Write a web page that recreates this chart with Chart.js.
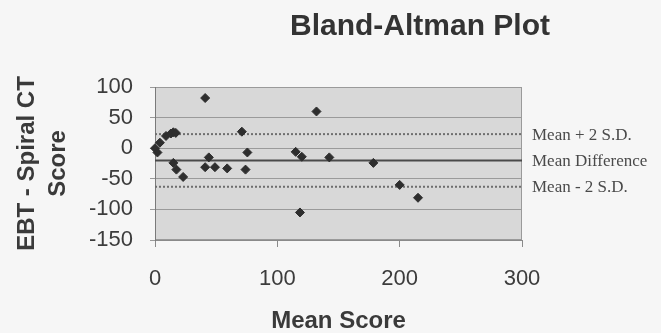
<!DOCTYPE html>
<html>
<head>
<meta charset="utf-8">
<script src="https://cdn.jsdelivr.net/npm/chart.js@4.4.1/dist/chart.umd.min.js"></script>
<style>
  html, body { margin: 0; padding: 0; background: #f6f6f6; }
  #wrap { width: 661px; height: 333px; }
</style>
</head>
<body>
<div id="wrap"><canvas id="baChart" width="661" height="333"></canvas></div>
<script>
// scatter points
const meanScore = [0, 2, 4, 9, 13, 15, 17, 15, 17.5, 23, 41, 41, 44, 49, 59, 71, 74, 75.5, 115, 120, 118.5, 132, 142.5, 178.5, 200, 215];
const diffScore = [0, -7, 9, 20, 24, 26, 25, -24, -35, -47, 82, -31, -15, -31, -33, 27, -35, -7, -6, -14, -105, 60, -15, -24, -60, -81];

// reference lines
const lineNames = ['Mean + 2 S.D.', 'Mean Difference', 'Mean - 2 S.D.'];
const lineValues = [23, -20, -63];
const lineEnds = [0, 300];

const xTicks = [0, 100, 200, 300];
const yTicks = [100, 50, 0, -50, -100, -150];

const points = meanScore.map((x, i) => ({x: x, y: diffScore[i]}));

function refLine(i, dashed) {
  return {
    type: 'line',
    label: lineNames[i],
    data: lineEnds.map(x => ({x: x, y: lineValues[i]})),
    borderColor: dashed ? '#6e6e6e' : '#4a4a4a',
    borderWidth: 2,
    borderDash: dashed ? [2, 2] : [],
    pointRadius: 0,
    order: 2
  };
}

// gray plot background
const plotBg = {
  id: 'plotBg',
  beforeDraw(chart) {
    const {ctx, chartArea: a} = chart;
    ctx.save();
    ctx.fillStyle = '#d8d8d8';
    ctx.fillRect(a.left, a.top, a.right - a.left, a.bottom - a.top);
    ctx.strokeStyle = '#9a9a9a';
    ctx.lineWidth = 1;
    ctx.strokeRect(a.left + 0.5, a.top + 0.5, a.right - a.left - 1, a.bottom - a.top - 1);
    ctx.restore();
  }
};

// title and labels at the right of the reference lines
const textLayer = {
  id: 'textLayer',
  afterDraw(chart) {
    const {ctx, chartArea: a} = chart;
    const y = chart.scales.y;
    ctx.save();
    ctx.fillStyle = '#333333';
    ctx.font = 'bold 30px "Liberation Sans", Arial, sans-serif';
    ctx.textAlign = 'center';
    ctx.textBaseline = 'middle';
    ctx.fillText('Bland-Altman Plot', 420, 27);
    ctx.fillStyle = '#4a4a4a';
    ctx.font = '17px "Liberation Serif", "Times New Roman", serif';
    ctx.textAlign = 'left';
    lineNames.forEach((name, i) => {
      ctx.fillText(name, a.right + 10, y.getPixelForValue(lineValues[i]) + 1);
    });
    ctx.restore();
  }
};

new Chart(document.getElementById('baChart'), {
  type: 'scatter',
  data: {
    datasets: [
      {
        label: 'Difference',
        data: points,
        pointStyle: 'rectRot',
        pointRadius: 4.5,
        backgroundColor: '#2e2e2e',
        borderColor: '#2e2e2e',
        borderWidth: 1,
        clip: false,
        order: 1
      },
      refLine(0, true),
      refLine(1, false),
      refLine(2, true)
    ]
  },
  plugins: [plotBg, textLayer],
  options: {
    responsive: false,
    animation: false,
    layout: {padding: {top: 87, right: 139, bottom: 0, left: 0}},
    plugins: {
      legend: {display: false},
      tooltip: {enabled: false}
    },
    scales: {
      x: {
        type: 'linear',
        min: 0,
        max: 300,
        afterBuildTicks: s => { s.ticks = xTicks.map(v => ({value: v})); },
        afterFit: s => { s.height = 93; },
        grid: {drawOnChartArea: false, color: '#8a8a8a', tickLength: 7},
        border: {color: '#8a8a8a'},
        ticks: {
          color: '#3c3c3c',
          padding: 19,
          font: {family: '"Liberation Sans", Arial, sans-serif', size: 22}
        },
        title: {
          display: true,
          text: 'Mean Score',
          color: '#3a3a3a',
          padding: 0,
          font: {family: '"Liberation Sans", Arial, sans-serif', size: 24, weight: 'bold', lineHeight: 1}
        }
      },
      y: {
        type: 'linear',
        min: -150,
        max: 100,
        afterBuildTicks: s => { s.ticks = yTicks.map(v => ({value: v})); },
        afterFit: s => { s.width = 155; },
        grid: {color: '#9a9a9a', tickLength: 5},
        border: {color: '#7a7a7a'},
        ticks: {
          color: '#3c3c3c',
          padding: 17,
          font: {family: '"Liberation Sans", Arial, sans-serif', size: 22}
        },
        title: {
          display: true,
          text: ['EBT - Spiral CT', 'Score'],
          color: '#3a3a3a',
          padding: {top: 12, bottom: 0},
          font: {family: '"Liberation Sans", Arial, sans-serif', size: 24, weight: 'bold', lineHeight: 1.3}
        }
      }
    }
  }
});
</script>
</body>
</html>
